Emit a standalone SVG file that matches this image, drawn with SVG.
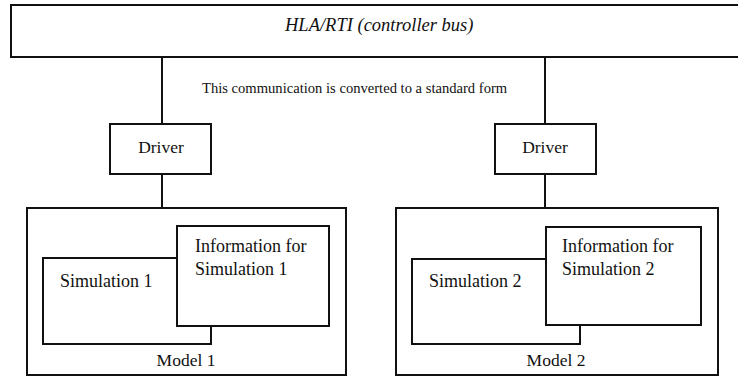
<svg xmlns="http://www.w3.org/2000/svg" width="738" height="377" viewBox="0 0 738 377">
<style>
.b{fill:#fff;stroke:#111;stroke-width:2}
.ln{fill:none;stroke:#111;stroke-width:2}
text{font-family:"Liberation Serif","Times New Roman",serif;fill:#111}
.t{font-size:17.5px}
.s{font-size:18px}
.c{font-size:14.6px}
</style>
<rect width="738" height="377" fill="#fff"/>
<g id="bus">
<path class="ln" d="M740,5 H11 V57 H740"/>
<text x="285" y="31" style="font-size:18.5px;font-style:italic">HLA/RTI (controller bus)</text>
</g>
<g id="connectors">
<line class="ln" x1="162" y1="57" x2="162" y2="124"/>
<line class="ln" x1="162" y1="174" x2="162" y2="208"/>
<line class="ln" x1="545" y1="57" x2="545" y2="124"/>
<line class="ln" x1="545" y1="174" x2="545" y2="208"/>
</g>
<text class="c" x="202" y="93">This communication is converted to a standard form</text>
<g id="driver1">
<rect class="b" x="110" y="124" width="101" height="50"/>
<text class="t" x="161" y="153" text-anchor="middle">Driver</text>
</g>
<g id="driver2">
<rect class="b" x="495" y="124" width="101" height="50"/>
<text class="t" x="545" y="153" text-anchor="middle">Driver</text>
</g>
<g id="model1">
<rect class="b" x="27" y="208" width="319" height="167"/>
<text class="t" x="186" y="366" text-anchor="middle">Model 1</text>
</g>
<g id="sim1">
<rect class="b" x="43" y="258" width="168" height="86"/>
<text class="s" x="60" y="287">Simulation 1</text>
</g>
<g id="info1">
<rect class="b" x="177" y="226" width="152" height="100"/>
<text class="s" x="195" y="252">Information for</text>
<text class="s" x="195" y="275">Simulation 1</text>
</g>
<g id="model2">
<rect class="b" x="396" y="208" width="322" height="167"/>
<text class="t" x="556" y="366" text-anchor="middle">Model 2</text>
</g>
<g id="sim2">
<rect class="b" x="412" y="259" width="168" height="85"/>
<text class="s" x="429" y="287">Simulation 2</text>
</g>
<g id="info2">
<rect class="b" x="546" y="227" width="155" height="98"/>
<text class="s" x="562" y="252">Information for</text>
<text class="s" x="562" y="275">Simulation 2</text>
</g>
</svg>
